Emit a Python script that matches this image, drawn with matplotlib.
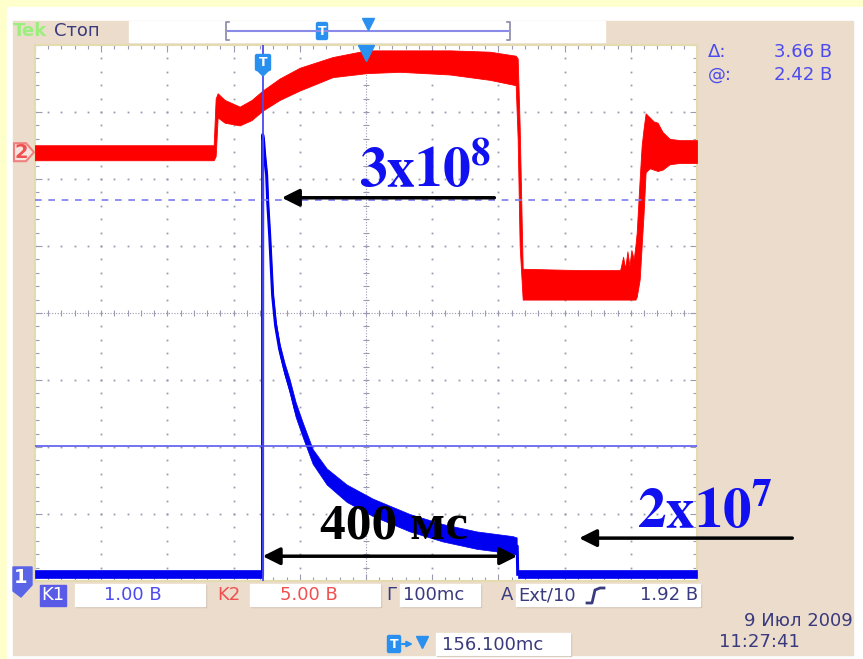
import matplotlib
matplotlib.use('Agg')
import matplotlib.pyplot as plt
from matplotlib.patches import Rectangle, Polygon, FancyBboxPatch
import numpy as np

plt.rcParams['font.family'] = ['DejaVu Sans']
plt.rcParams['mathtext.fontset'] = 'stix'

W, H = 863, 659

# scope settings
ch1_scale = 1.0      # V/div
ch2_scale = 5.0      # V/div
ch1_pos = -3.94      # ground level, div
ch2_pos = 2.40
t_div = 100.0        # ms/div
t_center = 156.1     # ms from trigger to screen centre

# cursor readout (ch1)
cur_delta = 3.66
cur_at = 2.42
cur_low = 1.96

# channel 1: flat baseline, then pulse at the trigger and slow decay
ch1_base_lo, ch1_base_hi = -0.02, 0.10
pulse_t = [0, 1.5, 3.0, 6.0, 7.6, 10.6, 15.1, 19.6, 25.7, 33.2, 40.8, 49.8,
           60.4, 75.5, 96.7, 126.9, 166.2, 222.1, 271.9, 323.3, 377.6, 383.7]
pulse_v = [6.6, 6.5, 6.3, 6.0, 5.6, 5.1, 4.2, 3.75, 3.4, 3.1, 2.85, 2.5,
           2.2, 1.8, 1.5, 1.25, 1.04, 0.81, 0.66, 0.55, 0.48, 0.46]
pulse_w = [0.03, 0.03, 0.04, 0.05, 0.05, 0.06, 0.07, 0.08, 0.08, 0.09, 0.10, 0.11,
           0.11, 0.11, 0.12, 0.13, 0.13, 0.13, 0.13, 0.13, 0.13, 0.13]
pulse_end = 384.5

# channel 2 envelope (V)
red_t = [-344, -74.0, -71.0, -68.0, -57.4, -34.7, -16.6, 0, 25.7, 55.9, 105.7,
         157.1, 207.0, 282.5, 342.9, 382.2, 385.2, 388.2, 392.8, 478.9, 540.0,
         544.5, 547.5, 551.0, 554.0, 557.0, 560.5, 563.0, 565.0, 569.5, 572.5,
         575.5, 578.5, 584.6, 590.6, 596.6, 604.2, 614.8, 630.0, 656]
red_hi = [0.52, 0.52, 4.0, 4.4, 3.9, 3.4, 3.9, 4.6, 5.5, 6.3, 7.1,
          7.6, 7.6, 7.6, 7.5, 7.2, 7.0, 2.0, -8.7, -8.8, -8.8,
          -7.8, -8.7, -7.4, -8.5, -7.3, -8.0, -7.0, -6.0, -2.0, 0.5,
          1.8, 2.9, 2.6, 2.3, 2.2, 1.5, 1.0, 0.9, 0.9]
red_lo = [-0.60, -0.60, -0.3, 2.6, 2.2, 2.0, 2.4, 3.1, 3.9, 4.6, 5.6,
          5.9, 6.0, 5.8, 5.4, 5.0, 1.0, -7.0, -11.0, -11.0, -11.0,
          -11.0, -11.0, -11.0, -11.0, -11.0, -11.0, -11.0, -10.8, -9.5, -7.0,
          -4.5, -1.5, -1.2, -1.3, -1.4, -1.3, -0.9, -0.8, -0.8]

blue = '#0000F0'
red = '#FF0000'
txt_blue = '#4B4BEF'
txt_red = '#F05050'
navy = '#3A3A7E'
beige = '#EBDCCB'
grid_col = '#9A9AB2'


def d1(v):
    return np.asarray(v) / ch1_scale + ch1_pos


def d2(v):
    return np.asarray(v) / ch2_scale + ch2_pos


def div_px(d):
    return 313 - d * 67


fig = plt.figure(figsize=(W / 100, H / 100), dpi=100)
fig.patch.set_facecolor('#FFFFCC')

# background panels in pixel coordinates
bg = fig.add_axes([0, 0, 1, 1], zorder=0)
bg.set_xlim(0, W)
bg.set_ylim(H, 0)
bg.axis('off')
bg.add_patch(Rectangle((7, 7), W - 7, H - 7, color='white'))
bg.add_patch(Rectangle((13, 21), 840, 634, color=beige))
bg.add_patch(Rectangle((129, 21), 476, 21, color='white'))

# graticule
left, right, top, bottom = 35, 697, 45, 581
ax = fig.add_axes([left / W, 1 - bottom / H, (right - left) / W, (bottom - top) / H], zorder=1)
ax.set_facecolor('white')
x0 = t_center - 5 * t_div
x1 = t_center + 5 * t_div
ax.set_xlim(x0, x1)
ax.set_ylim(-4, 4)
for s in ax.spines.values():
    s.set_color('#E4DCB0')
    s.set_linewidth(1.5)
ax.set_xticks(x0 + np.arange(11) * t_div)
ax.set_xticks(x0 + np.arange(51) * t_div / 5, minor=True)
ax.set_yticks(np.arange(-4, 5))
ax.set_yticks(np.arange(-4, 4.01, 0.2), minor=True)
ax.tick_params(which='both', direction='in', top=True, right=True,
               labelbottom=False, labelleft=False, color=grid_col, width=0.8)
ax.tick_params(which='major', length=5)
ax.tick_params(which='minor', length=3)

ys = np.arange(-4, 4.01, 0.2)
xs = x0 + np.arange(51) * t_div / 5
for k in range(1, 10):
    if k == 5:
        continue
    ax.plot(np.full_like(ys, x0 + k * t_div), ys, ls='none', marker='s',
            ms=1.3, mew=0, color=grid_col, zorder=1)
for j in range(-3, 4):
    if j == 0:
        continue
    ax.plot(xs, np.full_like(xs, j), ls='none', marker='s',
            ms=1.3, mew=0, color=grid_col, zorder=1)
ax.axvline(t_center, ls=(0, (1, 1.5)), lw=0.8, color=grid_col, zorder=1)
ax.axhline(0, ls=(0, (1, 1.5)), lw=0.8, color=grid_col, zorder=1)
ax.plot(np.full_like(ys, t_center), ys, ls='none', marker='_', ms=5,
        mew=0.8, color=grid_col, zorder=1)
ax.plot(xs, np.zeros_like(xs), ls='none', marker='|', ms=5,
        mew=0.8, color=grid_col, zorder=1)

# channel 2 trace
ax.fill_between(red_t, d2(red_lo), d2(red_hi), color=red, lw=0.6, zorder=3)

# channel 1 trace
pt = np.array(pulse_t)
pv = np.array(pulse_v)
pw = np.array(pulse_w)
ax.fill_between([x0, -0.2], d1(ch1_base_lo), d1(ch1_base_hi), color=blue, lw=0.5, zorder=4)
ax.fill_between([pulse_end + 0.8, x1], d1(ch1_base_lo), d1(ch1_base_hi), color=blue, lw=0.5, zorder=4)
ax.fill_between(pt, d1(pv - pw), d1(pv + pw), color=blue, lw=0.5, zorder=4)
line_t = [-0.2] + pulse_t + [pulse_end, pulse_end + 0.8]
line_v = [0.04] + pulse_v + [0.46, 0.04]
ax.plot(line_t, d1(line_v), color=blue, lw=2.2, zorder=4)

# cursors
ax.axhline(d1(cur_low), color='#5A5AF0', lw=1.2, zorder=5)
ax.axhline(d1(cur_low + cur_delta), color='#7C7CF0', lw=1.2, ls=(0, (4, 4)), zorder=5)
ax.axvline(0, color='#4A4AF0', lw=1.3, zorder=5)
ax.plot(t_center, 3.88, marker='v', ms=11, color='#2A90F0', clip_on=False, zorder=6)

# annotations
arrow = dict(arrowstyle='-|>', color='black', lw=2.5, mutation_scale=26,
             shrinkA=0, shrinkB=0)
ax.annotate('', xy=(29, 1.72), xytext=(350, 1.72), arrowprops=arrow,
            annotation_clip=False, zorder=7)
ax.annotate('', xy=(478, -3.36), xytext=(800, -3.36), arrowprops=arrow,
            annotation_clip=False, zorder=7)
ax.annotate('', xy=(pulse_end, -3.63), xytext=(0, -3.63),
            arrowprops=dict(arrow, arrowstyle='<|-|>'), annotation_clip=False, zorder=7)
ax.text(146, 1.88, r'$\mathbf{3x10^8}$', color='#1010F0', fontsize=40,
        ha='left', va='baseline', zorder=7, clip_on=False)
ax.text(565, -3.21, r'$\mathbf{2x10^7}$', color='#1010F0', fontsize=41,
        ha='left', va='baseline', zorder=7, clip_on=False)
ax.text(86, -3.36, '400 мс', color='black', fontsize=37, fontweight='bold',
        family='Liberation Serif', ha='left', va='baseline', zorder=7)

# overlay: labels and markers in pixel coordinates
fg = fig.add_axes([0, 0, 1, 1], zorder=2)
fg.set_xlim(0, W)
fg.set_ylim(H, 0)
fg.axis('off')
fg.patch.set_alpha(0)

fs = 13
fg.text(13, 31, 'Tek', color='#9BEF7C', fontsize=13, fontweight='bold', va='center')
fg.text(54, 31, 'Стоп', color=navy, fontsize=fs, va='center')

# record position bar
fg.plot([228, 508], [31, 31], color='#8A8AE8', lw=1.5)
fg.plot([229, 226, 226, 229], [22, 22, 40, 40], color='#8888A8', lw=1.2)
fg.plot([507, 510, 510, 507], [22, 22, 40, 40], color='#8888A8', lw=1.2)
fg.add_patch(FancyBboxPatch((318, 24), 8, 14, boxstyle='round,pad=1.5', color='#2A90F0'))
fg.text(322, 31.5, 'T', color='white', fontsize=9, fontweight='bold', ha='center', va='center')
fg.plot(368, 24, marker='v', ms=8, color='#2A90F0')

# trigger point marker
tx = 263
fg.add_patch(FancyBboxPatch((tx - 6, 56), 12, 13, boxstyle='round,pad=1.5', color='#2A90F0'))
fg.add_patch(Polygon([[tx - 7, 69], [tx + 7, 69], [tx, 76]], color='#2A90F0'))
fg.text(tx, 63, 'T', color='white', fontsize=9, fontweight='bold', ha='center', va='center')

# cursor readout
fg.text(708, 52, 'Δ:', color=txt_blue, fontsize=fs, va='center')
fg.text(832, 52, f'{cur_delta:.2f} B', color=txt_blue, fontsize=fs, va='center', ha='right')
fg.text(708, 75, '@:', color=txt_blue, fontsize=fs, va='center')
fg.text(832, 75, f'{cur_at:.2f} B', color=txt_blue, fontsize=fs, va='center', ha='right')

# channel ground markers
y2 = div_px(ch2_pos)
fg.add_patch(Polygon([[14, y2 - 9], [26, y2 - 9], [34, y2], [26, y2 + 9], [14, y2 + 9]],
                     facecolor='#F6E4DE', edgecolor='#F08080', lw=1.5))
fg.text(21, y2 + 0.5, '2', color=txt_red, fontsize=14, fontweight='bold', ha='center', va='center')
y1 = div_px(ch1_pos)
fg.add_patch(Polygon([[13, y1 - 10], [32, y1 - 10], [32, y1 + 8], [21, y1 + 20], [13, y1 + 14]],
                     color='#5A64E6'))
fg.text(21, y1 + 1, '1', color='white', fontsize=14, fontweight='bold', ha='center', va='center')


def box(xa, xb, ya=584, yb=606):
    fg.add_patch(Rectangle((xa + 1, ya + 1), xb - xa, yb - ya, color='#D2C2B2'))
    fg.add_patch(Rectangle((xa, ya), xb - xa, yb - ya, color='white'))


# status line
fg.add_patch(Rectangle((40, 585), 26, 21, color='#5A5AE8'))
fg.text(53, 595.5, 'K1', color='white', fontsize=fs, ha='center', va='center')
box(75, 205)
fg.text(133, 595.5, f'{ch1_scale:.2f} B', color=txt_blue, fontsize=fs, ha='center', va='center')
fg.text(217, 595.5, 'K2', color=txt_red, fontsize=fs, va='center')
box(250, 380)
fg.text(309, 595.5, f'{ch2_scale:.2f} B', color=txt_red, fontsize=fs, ha='center', va='center')
fg.text(386, 595.5, 'Г', color=navy, fontsize=fs, va='center')
box(400, 480)
fg.text(403, 595.5, f'{t_div:.0f}mc', color=navy, fontsize=fs, va='center')
fg.text(501, 595.5, 'A', color=navy, fontsize=fs, va='center')
box(516, 700)
fg.text(518, 595.5, 'Ext/10', color=navy, fontsize=fs, va='center')
fg.plot([587, 592, 595, 600, 604], [603, 603, 590, 588, 588], color=navy, lw=2)
fg.text(698, 595.5, '1.92 B', color=navy, fontsize=fs, ha='right', va='center')

# date and time
fg.text(853, 621, '9 Июл 2009', color=navy, fontsize=fs, ha='right', va='center')
fg.text(719, 642, '11:27:41', color=navy, fontsize=fs, va='center')

# horizontal position readout
fg.add_patch(FancyBboxPatch((389, 637), 10, 14, boxstyle='round,pad=1.5', color='#2A90F0'))
fg.text(394, 644.5, 'T', color='white', fontsize=9, fontweight='bold', ha='center', va='center')
fg.annotate('', xy=(413, 644), xytext=(402, 644),
            arrowprops=dict(arrowstyle='-|>', color='#2A90F0', lw=1.5, mutation_scale=8,
                            shrinkA=0, shrinkB=0))
fg.plot(422, 642, marker='v', ms=8, color='#2A90F0')
box(436, 570, 633, 655)
fg.text(442, 644.5, f'{t_center:.3f}mc', color=navy, fontsize=fs, va='center')

fig.savefig('out.png', dpi=100)
